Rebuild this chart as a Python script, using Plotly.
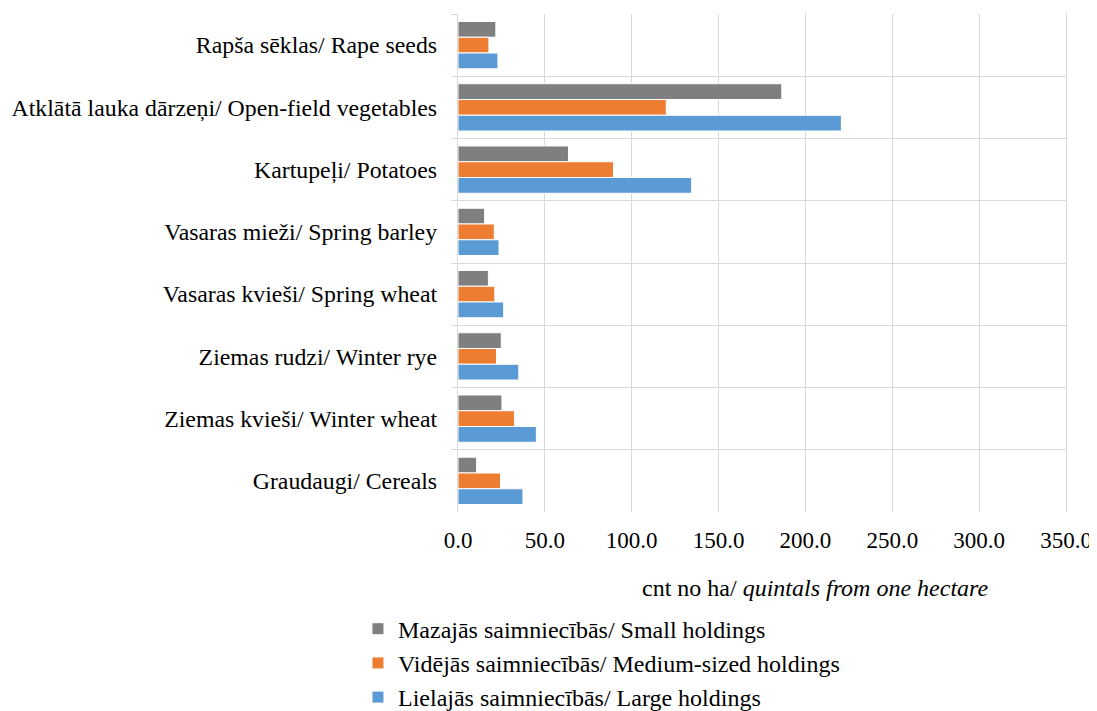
import plotly.graph_objects as go

# Categories, top to bottom as in the chart
crops = [
    "Rapša sēklas/ Rape seeds",
    "Atklātā lauka dārzeņi/ Open-field vegetables",
    "Kartupeļi/ Potatoes",
    "Vasaras mieži/ Spring barley",
    "Vasaras kvieši/ Spring wheat",
    "Ziemas rudzi/ Winter rye",
    "Ziemas kvieši/ Winter wheat",
    "Graudaugi/ Cereals",
]

# Yields, quintals per hectare
small = [21.8, 186.4, 63.6, 15.3, 17.5, 24.9, 25.3, 10.7]
medium = [17.8, 119.9, 89.5, 20.9, 21.2, 22.2, 32.5, 24.5]
large = [23.0, 220.7, 134.5, 23.6, 26.3, 35.0, 45.1, 37.4]

series_names = [
    "Mazajās saimniecībās/ Small holdings",
    "Vidējās saimniecībās/ Medium-sized holdings",
    "Lielajās saimniecībās/ Large holdings",
]
colors = ["#7f7f7f", "#ed7d31", "#5b9bd5"]

FONT = "Liberation Serif"
GRID = "#d9d9d9"

fig = go.Figure()
for i, (name, vals) in enumerate(zip(series_names, [small, medium, large])):
    fig.add_trace(go.Bar(
        name=name,
        orientation="h",
        x=vals,
        y=crops,
        marker=dict(color=colors[i], line=dict(color="white", width=1)),
    ))

# page body keeps its default 8px margin, so everything sits 8px down/right
fig.update_layout(
    width=1089,
    height=703,
    margin=dict(l=450, r=31, t=6, b=199, autoexpand=False),
    plot_bgcolor="white",
    paper_bgcolor="white",
    font=dict(family=FONT, size=24, color="black"),
    barmode="group",
    bargap=0.24,
    bargroupgap=0,
    showlegend=True,
    legend=dict(
        x=-0.1645, y=-0.19, xanchor="left", yanchor="top",
        orientation="v",
        font=dict(family=FONT, size=24),
    ),
)

fig.update_xaxes(
    range=[0, 350],
    dtick=50,
    tickformat=".1f",
    tickfont=dict(size=23),
    showgrid=True,
    gridcolor=GRID,
    gridwidth=1.3,
    zeroline=False,
    showline=False,
    ticks="",
    ticklabelstandoff=12,
    ticklabeloverflow="allow",
    automargin=False,
)

fig.update_yaxes(
    autorange="reversed",
    tickson="boundaries",
    tickfont=dict(size=23.8),
    showgrid=True,
    gridcolor=GRID,
    gridwidth=1.3,
    ticks="outside",
    ticklen=6,
    tickcolor=GRID,
    tickwidth=1.3,
    ticklabelstandoff=15,
    showline=True,
    mirror=True,
    linecolor=GRID,
    linewidth=1.3,
    automargin=False,
)

fig.add_annotation(
    text="cnt no ha/ <i>quintals from one hectare</i>",
    xref="paper", yref="paper",
    x=(815 - 458) / (1066 - 458), y=-(588 - 512) / (512 - 14),
    xanchor="center", yanchor="middle",
    showarrow=False,
    font=dict(family=FONT, size=24),
)

fig.write_html("out.html")
